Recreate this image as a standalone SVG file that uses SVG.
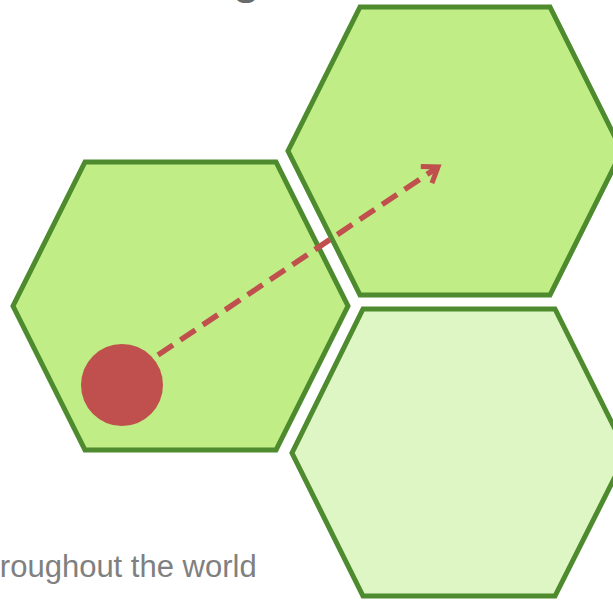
<svg xmlns="http://www.w3.org/2000/svg" width="613" height="600" viewBox="0 0 613 600">
<style>
.hex{stroke:#4e8a2e;stroke-width:5;stroke-linejoin:miter}
.dark{fill:#c0ed85}
.light{fill:#def6c4}
.txt{font-family:"Liberation Sans",Arial,sans-serif;fill:#808080}
</style>
<defs>
<marker id="arr" markerUnits="userSpaceOnUse" markerWidth="30" markerHeight="30" refX="20" refY="15" orient="auto" viewBox="0 0 30 30">
<path d="M6,5 L20,15 L6,25" fill="none" stroke="#c0504d" stroke-width="5" stroke-linecap="butt" stroke-linejoin="miter"/>
</marker>
</defs>
<rect width="613" height="600" fill="#ffffff"/>
<text class="txt" x="233" y="-6" font-size="44" font-weight="bold" style="fill:#6a6a6a">g</text>
<g id="hex-left">
<polygon class="hex dark" points="85,162 276,162 348,306 276,450 85,450 13,306"/>
</g>
<g id="hex-top-right">
<polygon class="hex dark" points="360,7 550,7 622,151 550,295 360,295 288,151"/>
</g>
<g id="hex-bottom-right">
<polygon class="hex light" points="363,309 555,309 627,453 555,596 363,596 292,453"/>
</g>
<g id="dot">
<circle cx="122" cy="385" r="41" fill="#c0504d"/>
</g>
<g id="connectors">
<line x1="158" y1="355" x2="438" y2="167" stroke="#c0504d" stroke-width="5.5" stroke-dasharray="18,9" marker-end="url(#arr)"/>
</g>
<text class="txt" x="-26" y="577" font-size="31">throughout the world</text>
</svg>
